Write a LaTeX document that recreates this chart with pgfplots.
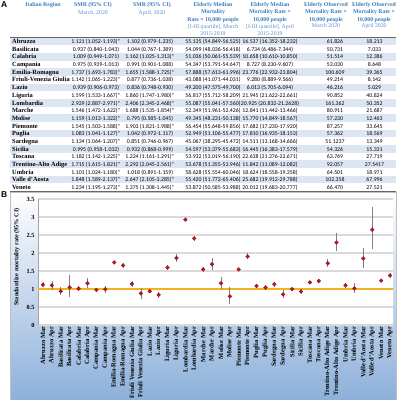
\documentclass[border=0pt]{standalone}
\usepackage{pgfplots}
\pgfplotsset{compat=1.18}
\usepackage{pgfplotstable}
\usepackage{fontspec}
\setmainfont{Liberation Serif}
\newfontfamily\numfont{Carlito}
\newfontfamily\lsans{Liberation Sans}
\definecolor{hdr}{HTML}{3A7BBF}
\definecolor{hdrl}{HTML}{5B93CC}
\definecolor{rowb}{HTML}{DCE6F2}
\definecolor{grd}{HTML}{D9D9D9}
\definecolor{mk}{HTML}{C8161E}
\definecolor{gold}{HTML}{F2B21B}
\definecolor{bgb}{HTML}{8DB0DA}

\pgfplotstableread{
x y lo hi
0 1.121 1.052 1.193
1 1.102 0.979 1.235
2 0.937 0.840 1.043
3 1.044 0.767 1.389
4 1.009 0.949 1.071
5 1.162 1.025 1.313
6 0.975 0.939 1.013
7 0.991 0.901 1.088
8 1.737 1.693 1.783
9 1.655 1.588 1.725
10 1.142 1.065 1.223
11 0.877 0.736 1.038
12 0.939 0.906 0.973
13 0.836 0.748 0.930
14 1.599 1.533 1.667
15 1.860 1.747 1.980
16 2.929 2.887 2.971
17 2.406 2.345 2.468
18 1.546 1.472 1.622
19 1.688 1.535 1.854
20 1.159 1.013 1.322
21 0.795 0.585 1.045
22 1.545 1.503 1.588
23 1.903 1.821 1.988
24 1.083 1.041 1.127
25 1.042 0.972 1.117
26 1.134 1.064 1.207
27 0.851 0.746 0.967
28 0.995 0.958 1.032
29 0.932 0.868 0.999
30 1.182 1.142 1.225
31 1.224 1.161 1.291
32 1.715 1.615 1.821
33 2.292 2.045 2.561
34 1.101 1.024 1.180
35 1.018 0.891 1.159
36 1.848 1.589 2.137
37 2.647 2.105 3.285
38 1.234 1.195 1.273
39 1.375 1.308 1.445
}\smr

\begin{document}
\begin{tikzpicture}
\useasboundingbox (0,0) rectangle (399pt,-400pt);
\fill[white] (0,0) rectangle (399pt,-400pt);

% ---------- Panel A: table ----------
\node[font=\lsans\bfseries\fontsize{8.5}{9}\selectfont, anchor=north west, inner sep=0] at (1pt,-1.5pt) {A};

\foreach \i in {0,2,...,18}{
  \pgfmathsetmacro\ya{-(37.46+7.68*\i)}
  \pgfmathsetmacro\yb{-(37.46+7.68*(\i+1))}
  \fill[rowb] (10pt,\ya pt) rectangle (396pt,\yb pt);
}
\draw[black!60, line width=0.6pt] (10pt,-37.4pt) -- (396pt,-37.4pt);
\draw[black!60, line width=0.6pt] (10pt,-191.1pt) -- (396pt,-191.1pt);

\tikzset{hb/.style={anchor=mid, inner sep=0, text=hdr, font=\bfseries\fontsize{5.8}{6}\selectfont},
         hl/.style={anchor=mid, inner sep=0, text=hdrl, font=\fontsize{5.8}{6}\selectfont}}
\node[hb] at (43pt,-4.7pt) {Italian Region};
\node[hb] at (93pt,-4.7pt) {SMR (95\% CI)};
\node[hl] at (93pt,-12pt) {March, 2020};
\node[hb] at (152pt,-4.7pt) {SMR (95\% CI)};
\node[hl] at (152pt,-12pt) {April, 2020};
\node[hb] at (213pt,-4.5pt) {Elderly Median};
\node[hb] at (213pt,-11.5pt) {Mortality};
\node[hb] at (213pt,-19pt) {Rate × 10,000 people};
\node[hl] at (213pt,-26pt) {[I-III quartile], March};
\node[hl] at (213pt,-33pt) {2015-2019};
\node[hb] at (270pt,-4.5pt) {Elderly Median};
\node[hb] at (270pt,-11.5pt) {Mortality Rate ×};
\node[hb] at (270pt,-19pt) {10,000 people};
\node[hl] at (270pt,-26pt) {[I-III quartile], April};
\node[hl] at (270pt,-33pt) {2015-2019};
\node[hb] at (326pt,-4.5pt) {Elderly Observed};
\node[hb] at (326pt,-11.5pt) {Mortality Rate ×};
\node[hb] at (326pt,-19pt) {10,000 people};
\node[hl] at (326pt,-25.5pt) {March 2020};
\node[hb] at (374pt,-4.5pt) {Elderly Observed};
\node[hb] at (374pt,-11.5pt) {Mortality Rate ×};
\node[hb] at (374pt,-19pt) {10,000 people};
\node[hl] at (374pt,-25.5pt) {April 2020};

\tikzset{nm/.style={anchor=mid west, inner sep=0, font=\bfseries\fontsize{6.4}{7}\selectfont},
         nb/.style={anchor=mid, inner sep=0, font=\numfont\fontsize{5.8}{6}\selectfont}}
\foreach \n/\a/\b/\c/\d/\e/\f [count=\i from 0] in {
Abruzzo/1.121 (1.052-1.193)*/1.102 (0.979-1.235)/55.135 (54.849-56.525)/16.537 (16.352-18.232)/61.826/18.213,
Basilicata/0.937 (0.840-1.043)/1.044 (0.767-1.389)/54.099 (48.036-56.418)/6.734 (6.486-7.344)/50.731/7.033,
Calabria/1.009 (0.949-1.071)/1.162 (1.025-1.313)*/51.036 (50.061-55.539)/10.658 (10.610-10.850)/51.514/12.386,
Campania/0.975 (0.939-1.013)/0.991 (0.901-1.088)/54.347 (53.791-54.647)/8.727 (8.230-9.607)/53.030/8.648,
Emilia-Romagna/1.737 (1.693-1.783)*/1.655 (1.588-1.725)*/57.888 (57.613-61.996)/23.776 (22.932-23.804)/100.609/39.365,
Friuli-Venezia Giulia/1.142 (1.065-1.223)*/0.877 (0.736-1.038)/43.088 (41.071-44.031)/9.280 (8.889-9.566)/49.214/8.142,
Lazio/0.939 (0.906-0.973)/0.836 (0.748-0.930)/49.200 (47.575-49.700)/6.013 (5.705-6.094)/46.216/5.029,
Liguria/1.599 (1.533-1.667)*/1.860 (1.747-1.980)*/56.817 (55.712-58.209)/21.945 (21.622-22.661)/90.852/40.824,
Lombardia/2.929 (2.887-2.971)*/2.406 (2.345-2.468)*/55.087 (55.041-57.560)/20.925 (20.832-21.2628)/161.362/50.352,
Marche/1.546 (1.472-1.622)*/1.688 (1.535-1.854)*/52.349 (51.961-52.426)/12.841 (11.442-13.466)/80.911/21.687,
Molise/1.159 (1.013-1.322)*/0.795 (0.585-1.045)/49.345 (48.231-50.138)/15.770 (14.849-18.567)/57.230/12.463,
Piemonte/1.545 (1.503-1.588)*/1.903 (1.821-1.988)*/56.454 (55.648-59.856)/17.682 (17.230-17.920)/87.257/33.645,
Puglia/1.083 (1.041-1.127)*/1.042 (0.972-1.117)/52.949 (51.106-55.477)/17.810 (16.935-18.153)/57.362/18.569,
Sardegna/1.134 (1.064-1.207)*/0.851 (0.746-0.967)/45.067 (38.295-45.472)/14.511 (13.168-14.666)/51.1237/13.349,
Sicilia/0.995 (0.958-1.032)/0.932 (0.868-0.999)/54.597 (53.379-55.683)/16.445 (16.383-17.579)/54.326/15.331,
Toscana/1.182 (1.142-1.225)*/1.224 (1.161-1.291)*/53.932 (53.019-56.190)/22.638 (21.276-22.671)/63.769/27.719,
Trentino-Alto Adige/1.715 (1.615-1.821)*/2.292 (2.045-2.561)*/53.678 (51.355-53.946)/11.842 (11.089-12.082)/92.057/27.5417,
Umbria/1.101 (1.024-1.180)*/1.018 (0.891-1.159)/58.628 (55.554-60.046)/18.624 (18.558-19.358)/64.501/18.971,
Valle d'Aosta/1.848 (1.589-2.137)*/2.647 (2.105-3.285)*/55.420 (51.772-65.406)/25.682 (19.912-29.788)/102.358/67.996,
Veneto/1.234 (1.195-1.273)*/1.375 (1.308-1.445)*/53.872 (50.585-53.988)/20.012 (19.683-20.777)/66.470/27.521}{
  \pgfmathsetmacro\yy{-(41.3+7.68*\i)}
  \node[nm] at (12pt,\yy pt) {\n};
  \node[nb] at (96pt,\yy pt) {\a};
  \node[nb] at (150pt,\yy pt) {\b};
  \node[nb] at (213pt,\yy pt) {\c};
  \node[nb] at (270pt,\yy pt) {\d};
  \node[nb] at (335pt,\yy pt) {\e};
  \node[nb] at (374.5pt,\yy pt) {\f};
}

% ---------- Panel B: chart ----------
\node[font=\lsans\bfseries\fontsize{8.5}{9}\selectfont, anchor=north west, inner sep=0] at (1pt,-191.5pt) {B};
\shade[top color=white, bottom color=bgb] (10pt,-192pt) rectangle (396pt,-400pt);
\draw[black!25, line width=0.6pt] (10pt,-192pt) rectangle (396pt,-401pt);

\node[rotate=90, inner sep=0, font=\bfseries\fontsize{6.2}{7}\selectfont] at (17pt,-257pt) {Standardize mortality rate (95\% CI)};

\begin{axis}[
  at={(38pt,-325pt)}, anchor=south west,
  width=355pt, height=126pt, scale only axis,
  xmin=-0.56, xmax=39.34, ymin=0, ymax=3.5,
  ytick={0,0.5,1,1.5,2,2.5,3,3.5},
  yticklabels={0,0.5,1,1.5,2,2.5,3,3.5},
  xtick={0,1,...,39},
  xticklabels={Abruzzo Mar,Abruzzo Apr,Basilicata Mar,Basilicata Apr,Calabria Mar,Calabria Apr,Campania Mar,Campania Apr,Emilia-Romagna Mar,Emilia-Romagna Apr,Friuli Venezia Giulia Mar,Friuli Venezia Giulia Apr,Lazio Mar,Lazio Apr,Liguria Mar,Liguria Apr,Lombardia Mar,Lombardia Apr,Marche Mar,Marche Apr,Molise Mar,Molise Apr,Piemonte Mar,Piemonte Apr,Puglia Mar,Puglia Apr,Sardegna Mar,Sardegna Apr,Sicilia Mar,Sicilia Apr,Toscana Mar,Toscana Apr,Trentino-Alto Adige Mar,Trentino-Alto Adige Apr,Umbria Mar,Umbria Apr,Valle d'Aosta Mar,Valle d'Aosta Apr,Veneto Mar,Veneto Apr},
  x tick label style={rotate=90, anchor=east, inner sep=1.5pt, font=\bfseries\fontsize{6.5}{7}\selectfont},
  y tick label style={font=\bfseries\fontsize{6.3}{7}\selectfont},
  major tick length=0pt,
  ymajorgrids, grid style={grd, line width=1.3pt},
  axis lines*=left,
  x axis line style={draw=none},
  y axis line style={draw=black!35, line width=0.6pt},
  axis background/.style={fill=white},
  axis on top=false,
]
\addplot[gold, line width=1.2pt, forget plot] coordinates {(-0.56,1) (39.34,1)};
\addplot[only marks, mark=*, mark size=1.9pt,
  mark options={fill=mk, draw=mk!65!black, line width=0.3pt},
  error bars/.cd, y dir=both, y explicit, error mark=none,
  error bar style={black!50, line width=0.7pt}]
  table[x=x, y=y, y error plus expr=\thisrow{hi}-\thisrow{y}, y error minus expr=\thisrow{y}-\thisrow{lo}] {\smr};
\end{axis}
\end{tikzpicture}
\end{document}
